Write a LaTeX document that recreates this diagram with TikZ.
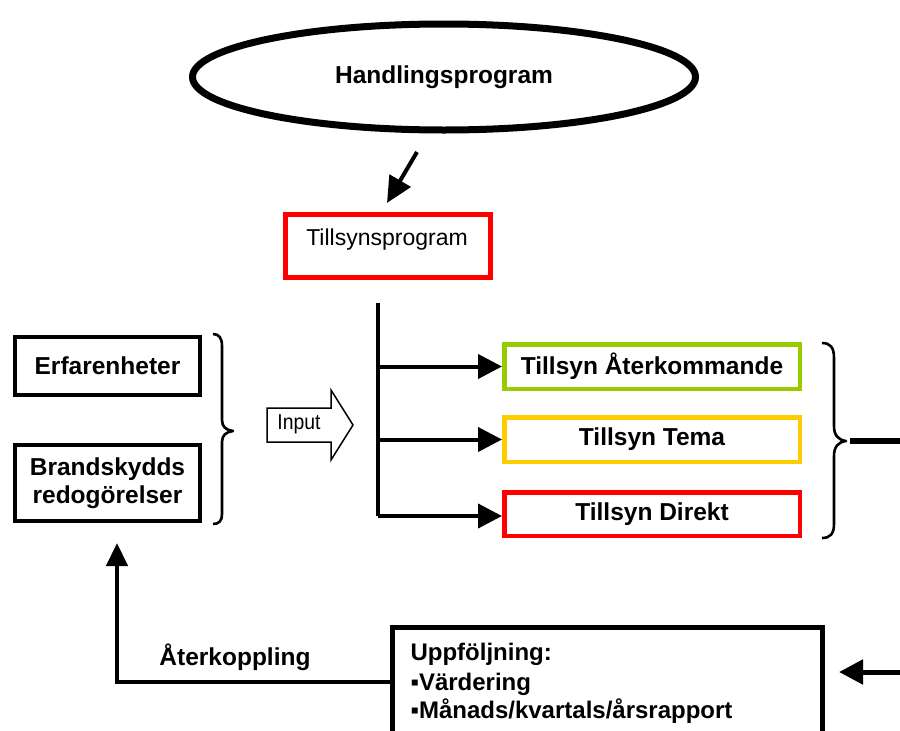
\documentclass[tikz,border=0pt]{standalone}
\usepackage{fontspec}
\setmainfont{Liberation Sans}
\newfontfamily\narrowsans[FakeStretch=0.9]{Liberation Sans}
\usetikzlibrary{shapes.geometric,arrows.meta}
\definecolor{tgreen}{HTML}{99CC00}
\definecolor{tyellow}{HTML}{FFCC00}
\definecolor{tred}{HTML}{FF0000}
\begin{document}
\begin{tikzpicture}[x=1pt,y=-1pt,
  box/.style={draw, rectangle, inner sep=0pt},
  bigtxt/.style={font=\fontsize{24.5}{28}\selectfont\bfseries},
  listtxt/.style={font=\fontsize{24}{28}\selectfont\bfseries},
  midtxt/.style={font=\fontsize{24.5}{28}\selectfont\bfseries},
  stroke/.style={line width=4pt},
  tip/.style={-{Triangle[length=24pt,width=24pt]}},
  brace/.style={line width=2.6pt, line join=round}]
\path[use as bounding box, fill=white] (0,0) rectangle (900,731);

% Top: action programme and supervision programme
\node[draw, ellipse, line width=7pt, minimum width=503pt, minimum height=106pt, inner sep=0pt,
      font=\fontsize{24.5}{28}\selectfont\bfseries] (hp) at (444,77) {Handlingsprogram};
\node[box, draw=tred, line width=5pt, minimum width=205pt, minimum height=63pt] (tp) at (388,246) {};
\node[font=\fontsize{23}{27}\selectfont] (tptxt) at (387,240) {Tillsynsprogram};
\coordinate (hpout) at (417,152);
\coordinate (tpin) at (387,203);
\draw[stroke, -{Triangle[length=26pt,width=24pt]}] (hpout) -- (tpin);

% Three kinds of supervision
\node[box, draw=tgreen, line width=4.5pt, minimum width=295.5pt, minimum height=44.5pt, midtxt] (ga) at (652,366.5) {Tillsyn Återkommande};
\node[box, draw=tyellow, line width=4.5pt, minimum width=295.5pt, minimum height=44.5pt, midtxt] (gb) at (652,439.5) {Tillsyn Tema};
\node[box, draw=tred, line width=4.5pt, minimum width=295.5pt, minimum height=43.5pt, midtxt] (gc) at (652,514) {Tillsyn Direkt};

% Trunk and branches
\coordinate (ttop) at (378,303);
\coordinate (tbot) at (378,516);
\draw[stroke] (ttop) -- (tbot);
\draw[stroke, tip] (ttop |- ga.west) -- (ga.west);
\draw[stroke, tip] (ttop |- gb.west) -- (gb.west);
\draw[stroke, tip] (tbot) -- (tbot -| gc.west);

% Right brace and its outgoing line
\draw[brace] (822,343) .. controls (830,343) and (834,347) .. (834,358) -- (834,426)
  .. controls (834,435) and (838,440) .. (846,441)
  .. controls (838,442) and (834,447) .. (834,456) -- (834,524)
  .. controls (834,534) and (830,538) .. (822,538);
\coordinate (bout) at (850,441);
\coordinate (bend) at (900,441);
\draw[line width=5.5pt] (bout) -- (bend);

% Left inputs
\node[box, line width=4.5pt, minimum width=185pt, minimum height=58pt, bigtxt] (er) at (107.5,366) {Erfarenheter};
\node[box, line width=4.5pt, minimum width=185pt, minimum height=76pt, align=center, bigtxt] (br) at (107.5,483) {Brandskydds\\redogörelser};

% Left brace
\draw[brace] (213,334) .. controls (219,334) and (222,338) .. (222,346) -- (222,420)
  .. controls (222,427) and (226,430) .. (233,431)
  .. controls (226,432) and (222,435) .. (222,442) -- (222,514)
  .. controls (222,521) and (219,524) .. (213,524);

% Block arrow "Input"
\draw[line width=1.5pt, line join=miter] (267,408) -- (331,408) -- (331,390) -- (353,425)
  -- (331,460) -- (331,442) -- (267,442) -- cycle;
\node[font=\fontsize{21.5}{25}\narrowsans] (inp) at (299,424) {Input};

% Follow-up box
\node[box, line width=5pt, minimum width=430pt, minimum height=150pt] (uf) at (607.5,702.5) {};
\node[anchor=base west, listtxt] (uf1) at (407,660) {Uppföljning:};
\node[anchor=base west, listtxt] (uf2) at (407,690) {▪Värdering};
\node[anchor=base west, listtxt] (uf3) at (407,718) {▪Månads/kvartals/årsrapport};

% Incoming arrow on the right
\coordinate (rin) at (900,672);
\coordinate (rtip) at (839,672);
\draw[line width=5pt, tip] (rin) -- (rtip);

% Feedback loop back to the inputs
\coordinate (fbrow) at (0,682);
\coordinate (fbtip) at (117,543);
\draw[line width=4.5pt, line join=miter, -{Triangle[length=23pt,width=21pt]}] (uf.west |- fbrow) -| (fbtip);
\node[anchor=base, bigtxt] (ak) at (235,665) {Återkoppling};
\end{tikzpicture}
\end{document}
